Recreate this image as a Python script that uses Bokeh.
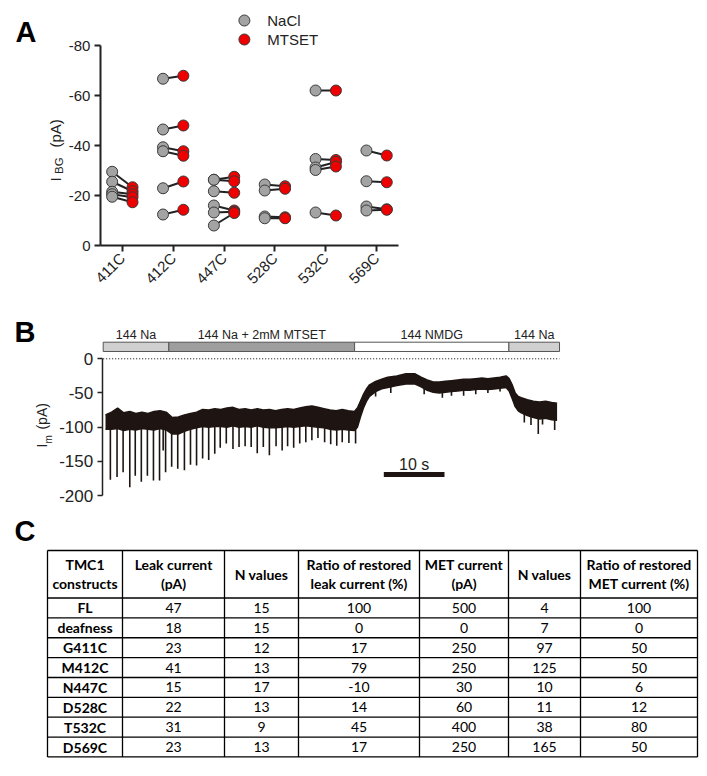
import numpy as np
from bokeh.plotting import figure
from bokeh.models import Range1d, FixedTicker
from bokeh.embed import file_html
from bokeh.resources import INLINE
from bokeh.core.properties import value

# ---------------- Panel A data ----------------
categories = ["411C", "412C", "447C", "528C", "532C", "569C"]
nacl_411 = [-29.5, -25.5, -21.5, -20.5, -19.5]
mtset_411 = [-23.3, -21.7, -20.5, -19.3, -17.3]
nacl_412 = [-66.7, -46.4, -39.3, -37.7, -22.9, -12.4]
mtset_412 = [-67.9, -48.0, -37.7, -35.9, -25.6, -14.3]
nacl_447 = [-26.3, -26.3, -21.7, -16.0, -13.2, -8.0]
mtset_447 = [-27.5, -25.7, -21.1, -14.0, -13.5, -13.0]
nacl_528 = [-24.4, -22.0, -11.6, -10.9]
mtset_528 = [-23.7, -22.7, -11.3, -10.9]
nacl_532 = [-62.0, -34.6, -31.2, -30.2, -13.2]
mtset_532 = [-62.0, -34.2, -33.4, -31.6, -12.0]
nacl_569 = [-38.0, -25.7, -15.6, -14.0]
mtset_569 = [-36.0, -25.3, -14.5, -14.3]
yticks_A = [0, -20, -40, -60, -80]
legend_labels = ["NaCl", "MTSET"]

# ---------------- Panel B data ----------------
bath_labels = ["144 Na", "144 Na + 2mM MTSET", "144 NMDG", "144 Na"]
bath_start = [-0.38, 10.43, 41.04, 66.46]
bath_end = [10.43, 41.04, 66.46, 74.8]
bath_fill = ["#d0d0d0", "#9e9e9e", "#ffffff", "#d0d0d0"]

env_t = [0, 1, 2, 3, 4, 5, 6, 7, 8, 9, 10, 11, 12, 13, 14, 15, 16, 17, 18, 19, 20,
         21, 22, 23, 24, 25, 26, 27, 28, 29, 30, 31, 32, 33, 34, 35, 36, 37, 38, 39,
         40, 41, 41.5, 42.0, 42.5, 43.0, 43.5, 44.5, 45.5, 46.5, 48, 49.5, 51, 52, 53,
         54, 55, 56, 57, 58, 59, 60, 61, 62, 63, 64, 65, 66, 66.5, 67, 67.5, 68, 68.5,
         69.5, 70.5, 71.5, 72.5, 73.5, 74.4]
env_top = [-82, -78, -72, -79, -77, -80, -78, -80, -77, -76, -78, -86, -85, -82, -80,
           -78, -74, -75, -73, -74, -72, -71, -74, -73, -75, -73, -75, -74, -76, -74,
           -73, -74, -72, -70, -69, -71, -73, -75, -76, -74, -76, -77, -72, -62, -52,
           -44, -38, -33, -30, -27, -25, -22, -22, -27, -31, -34, -34, -33, -32, -31,
           -30, -30, -29, -28, -29, -28, -27, -25, -29, -38, -50, -55, -57, -60, -62,
           -63, -62, -64, -65]
env_bot = [-103, -103, -102, -105, -103, -104, -102, -103, -104, -102, -104, -110, -110,
           -106, -103, -101, -99, -100, -99, -99, -100, -98, -100, -99, -100, -98, -100,
           -101, -101, -100, -99, -100, -99, -98, -99, -100, -101, -103, -104, -103,
           -104, -105, -100, -85, -72, -62, -55, -48, -44, -42, -39, -37, -37, -41, -46,
           -49, -50, -49, -48, -47, -46, -46, -45, -44, -45, -44, -43, -42, -47, -58,
           -70, -76, -79, -83, -86, -88, -87, -89, -90]
spike_t = [0.8, 1.9, 2.9, 4.0, 4.9, 5.9, 6.9, 7.9, 8.9, 9.5, 9.9, 10.9, 11.9, 13.0,
           14.0, 15.0, 16.0, 17.0, 18.0, 18.9, 19.9, 21.0, 22.0, 23.0, 24.0, 25.0,
           26.0, 27.0, 28.1, 29.1, 30.0, 31.0, 32.0, 33.0, 34.0, 35.0, 36.1, 37.1,
           38.1, 39.0, 40.1, 41.2, 44.5, 47.0, 52.5, 55.5, 57.0, 59.0, 61.0, 63.0,
           65.0, 69.0, 70.1, 71.3, 72.0, 74.0]
spike_min = [-177, -173, -166, -188, -171, -180, -171, -178, -178, -134, -166, -158,
             -161, -163, -155, -156, -146, -148, -139, -130, -124, -132, -129, -128,
             -129, -138, -129, -141, -128, -134, -128, -130, -124, -122, -119, -116,
             -122, -125, -127, -122, -123, -124, -55, -50, -52, -57, -54, -54, -52,
             -50, -48, -93, -97, -110, -96, -104]
yticks_B = [0, -50, -100, -150, -200]
scale_bar_s = 10

# ---------------- Panel C data ----------------
header = [["TMC1", "constructs"], ["Leak current", "(pA)"], ["N values"],
          ["Ratio of restored", "leak current (%)"], ["MET current", "(pA)"],
          ["N values"], ["Ratio of restored", "MET current (%)"]]
constructs = ["FL", "deafness", "G411C", "M412C", "N447C", "D528C", "T532C", "D569C"]
leak_current = [47, 18, 23, 41, 15, 22, 31, 23]
leak_n = [15, 15, 12, 13, 17, 13, 9, 13]
leak_ratio = [100, 0, 17, 79, -10, 14, 45, 17]
met_current = [500, 0, 250, 250, 30, 60, 400, 250]
met_n = [4, 7, 97, 125, 10, 11, 38, 165]
met_ratio = [100, 0, 50, 50, 6, 12, 80, 50]

AX = "#222222"
FONT = "Liberation Sans"
W = 707
GRAY = "#a3a3a3"
RED = "#ee0000"
EDGE = "#3a3a3a"


def style_axis(ax, lw, size):
    ax.axis_line_width = lw
    ax.axis_line_color = AX
    ax.major_tick_line_width = lw
    ax.major_tick_line_color = AX
    ax.major_tick_out = 6
    ax.major_tick_in = 0
    ax.minor_tick_line_color = None
    ax.major_label_text_font = FONT
    ax.major_label_text_font_size = size
    ax.major_label_text_color = AX
    ax.major_label_standoff = 4


def txt(p, x, y, s, size, angle=0.0, bold=False, align="left", color=AX):
    p.text(x=[x], y=[y], text=[s], angle=angle, text_font=value(FONT), text_font_size=size,
           text_font_style="bold" if bold else "normal", text_align=align,
           text_baseline="middle", text_color=color)


def bare(p):
    p.outline_line_color = None
    p.grid.visible = False


# ================= Panel A =================
# frame fills the canvas; axes are pinned with fixed_location
pA = figure(width=W, height=300, x_range=Range1d(-2.396, 11.507), y_range=Range1d(22, -98),
            output_backend="svg", toolbar_location=None, min_border=0, title=None)
bare(pA)
pA.xaxis.fixed_location = 0
pA.yaxis.fixed_location = -0.43
pA.xaxis.bounds = (-0.43, 5.43)
pA.yaxis.bounds = (-80, 0)
pA.xaxis.ticker = FixedTicker(ticks=list(range(len(categories))))
pA.xaxis.major_label_overrides = {i: c for i, c in enumerate(categories)}
pA.xaxis.major_label_orientation = np.pi / 4
pA.yaxis.ticker = FixedTicker(ticks=yticks_A)
pA.yaxis.major_label_overrides = {t: str(t) for t in yticks_A}
style_axis(pA.xaxis, 2, "15px")
style_axis(pA.yaxis, 2, "15px")

groups_n = [nacl_411, nacl_412, nacl_447, nacl_528, nacl_532, nacl_569]
groups_m = [mtset_411, mtset_412, mtset_447, mtset_528, mtset_532, mtset_569]
xs_n, ys_n, xs_m, ys_m = [], [], [], []
for i, (gn, gm) in enumerate(zip(groups_n, groups_m)):
    xs_n += [i - 0.2] * len(gn)
    ys_n += gn
    xs_m += [i + 0.2] * len(gm)
    ys_m += gm
pA.segment(x0=xs_n, y0=ys_n, x1=xs_m, y1=ys_m, line_color=AX, line_width=2)
pA.scatter(xs_n, ys_n, size=11, fill_color=GRAY, line_color=EDGE, line_width=1)
pA.scatter(xs_m, ys_m, size=11, fill_color=RED, line_color=EDGE, line_width=1)

# legend
pA.scatter([2.40, 2.40], [-90, -82.4], size=11, fill_color=[GRAY, RED], line_color=EDGE,
           line_width=1)
pA.text(x=[2.85, 2.85], y=[-90, -82.4], text=legend_labels, text_font=value(FONT),
        text_font_size="15px", text_baseline="middle", text_align="left", text_color=AX)

# y label  I_BG (pA)
txt(pA, -1.324, -25.6, "I", "15px", angle=np.pi / 2)
txt(pA, -1.255, -28.6, "BG", "11.5px", angle=np.pi / 2)
txt(pA, -1.324, -39.2, "(pA)", "15px", angle=np.pi / 2)
txt(pA, -2.101, -85.6, "A", "29px", bold=True, color="black")

# ================= Panel B =================
TR = "#1e1512"
pB = figure(width=W, height=210, x_range=Range1d(-17.30, 99.18), y_range=Range1d(-221.9, 85.3),
            output_backend="svg", toolbar_location=None, min_border=0, title=None)
bare(pB)
pB.xaxis.visible = False
pB.yaxis.fixed_location = -0.54
pB.yaxis.ticker = FixedTicker(ticks=yticks_B)
pB.yaxis.major_label_overrides = {t: str(t) for t in yticks_B}
pB.yaxis.bounds = (-200, 0)
style_axis(pB.yaxis, 1.5, "17px")
pB.yaxis.major_tick_out = 5

pB.quad(left=bath_start, right=bath_end, bottom=10.7, top=24.3, fill_color=bath_fill,
        line_color="#555555", line_width=1)
pB.text(x=[(a + b) / 2 for a, b in zip(bath_start, bath_end)], y=[35.5] * 4, text=bath_labels,
        text_font=value(FONT), text_font_size="12.5px", text_align="center",
        text_baseline="middle", text_color=AX)
pB.line(x=[bath_start[0], bath_end[-1]], y=[0, 0], line_dash="1 2", line_color="black",
        line_width=1)

pB.varea(x=env_t, y1=env_bot, y2=env_top, fill_color=TR)
pB.line(env_t, env_top, line_color=TR, line_width=1.5)
pB.line(env_t, env_bot, line_color=TR, line_width=1.5)
spike_start = list(np.interp(spike_t, env_t, env_bot) + 4)
pB.segment(x0=spike_t, y0=spike_start, x1=spike_t, y1=spike_min, line_color=TR, line_width=1.6)

sb_x0 = 45.85
pB.segment(x0=[sb_x0], y0=[-169.3], x1=[sb_x0 + scale_bar_s], y1=[-169.3], line_color=TR,
           line_width=5)
txt(pB, sb_x0 + scale_bar_s / 2, -154.6, f"{scale_bar_s} s", "16px", align="center")

# y label  I_m (pA)
txt(pB, -10.46, -129.8, "I", "14px", angle=np.pi / 2)
txt(pB, -9.34, -124.0, "m", "10px", angle=np.pi / 2)
txt(pB, -10.46, -103.5, "(pA)", "14px", angle=np.pi / 2)
txt(pB, -14.99, 39.9, "B", "29px", bold=True, color="black")

# ================= Panel C =================
pC = figure(width=W, height=266, x_range=Range1d(0, W), y_range=Range1d(776, 510),
            output_backend="svg", toolbar_location=None, min_border=0, title=None)
bare(pC)
pC.axis.visible = False

col_edges = [47, 122, 224, 298, 419, 508, 580, 697]
row_edges = [550, 597.5] + [597.5 + 19.87 * (i + 1) for i in range(len(constructs))]
pC.segment(x0=[col_edges[0]] * len(row_edges), y0=row_edges,
           x1=[col_edges[-1]] * len(row_edges), y1=row_edges, line_color="black",
           line_width=1.3)
pC.segment(x0=col_edges, y0=[row_edges[0]] * len(col_edges), x1=col_edges,
           y1=[row_edges[-1]] * len(col_edges), line_color="black", line_width=1.3)

TFONT = "Lato"
TSIZE = "14px"
centers = [(a + b) / 2 for a, b in zip(col_edges[:-1], col_edges[1:])]
hx, hy, ht = [], [], []
for c, lines in zip(centers, header):
    if len(lines) == 2:
        hx += [c, c]; hy += [564, 583]; ht += lines
    else:
        hx += [c]; hy += [573.5]; ht += lines
pC.text(x=hx, y=hy, text=ht, text_font=value(TFONT), text_font_style="bold",
        text_font_size=TSIZE, text_align="center", text_baseline="middle",
        text_color="black")

row_centers = [(a + b) / 2 for a, b in zip(row_edges[1:-1], row_edges[2:])]
pC.text(x=[centers[0]] * len(constructs), y=row_centers, text=constructs,
        text_font=value(TFONT), text_font_style="bold", text_font_size=TSIZE,
        text_align="center", text_baseline="middle", text_color="black")
cols = [leak_current, leak_n, leak_ratio, met_current, met_n, met_ratio]
vx, vy, vt = [], [], []
for j, colvals in enumerate(cols):
    for i, v in enumerate(colvals):
        vx.append(centers[j + 1]); vy.append(row_centers[i]); vt.append(str(v))
pC.text(x=vx, y=vy, text=vt, text_font=value(TFONT), text_font_size=TSIZE,
        text_align="center", text_baseline="middle", text_color="black")
txt(pC, 14, 530, "C", "29px", bold=True, color="black")

open("out.html", "w").write(file_html([pA, pB, pC], INLINE))
